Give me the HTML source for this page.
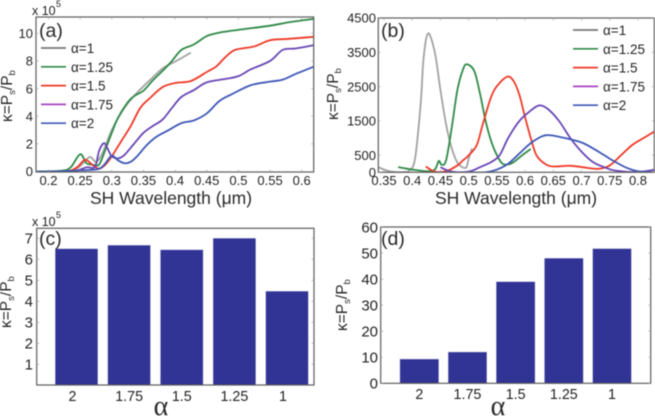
<!DOCTYPE html>
<html>
<head>
<meta charset="utf-8">
<style>
html,body{margin:0;padding:0;background:#fff;width:655px;height:416px;overflow:hidden}
svg{display:block;filter:blur(0.5px)}
text{font-family:"Liberation Sans",sans-serif;fill:#222}
.axt{font-size:17.5px;fill:#2a2a2a}
.yl{font-size:15.5px;fill:#2a2a2a}
.sub{font-size:9.5px}
.pl{font-size:19.5px;fill:#2a2a2a}
.alpha{font-family:"Liberation Serif",serif;font-size:28px;fill:#2a2a2a}
</style>
</head>
<body>
<svg id="fig" xmlns="http://www.w3.org/2000/svg" width="655" height="416" viewBox="0 0 655 416">
  <g id="layer-marks"></g>
  <g>
    <text class="pl" x="39" y="37">(a)</text>
    <text x="32" y="15" font-size="12.5">x 10</text>
    <text x="56" y="7" font-size="9">5</text>
    <text class="axt" x="171" y="204" text-anchor="middle">SH Wavelength (μm)</text>
    <text class="yl" transform="translate(12,122) rotate(-90)">κ=P<tspan class="sub" dy="3">s</tspan><tspan dy="-3">/P</tspan><tspan class="sub" dy="3">b</tspan></text>
  </g>
  <g>
    <text class="pl" x="381" y="37">(b)</text>
    <text class="axt" x="516" y="204" text-anchor="middle">SH Wavelength (μm)</text>
    <text class="yl" transform="translate(338,120) rotate(-90)">κ=P<tspan class="sub" dy="3">s</tspan><tspan dy="-3">/P</tspan><tspan class="sub" dy="3">b</tspan></text>
  </g>
  <g>
    <text class="pl" x="39" y="245">(c)</text>
    <text x="32" y="226" font-size="12.5">x 10</text>
    <text x="56" y="218" font-size="9">5</text>
    <text class="alpha" x="161" y="415" text-anchor="middle">α</text>
    <text class="yl" transform="translate(11,328) rotate(-90)">κ=P<tspan class="sub" dy="3">s</tspan><tspan dy="-3">/P</tspan><tspan class="sub" dy="3">b</tspan></text>
  </g>
  <g>
    <text class="pl" x="381" y="245">(d)</text>
    <text class="alpha" x="498" y="415" text-anchor="middle">α</text>
    <text class="yl" transform="translate(347,331) rotate(-90)">κ=P<tspan class="sub" dy="3">s</tspan><tspan dy="-3">/P</tspan><tspan class="sub" dy="3">b</tspan></text>
  </g>
</svg>
<script>
// Shared series names and colours
const seriesNames = ['α=1', 'α=1.25', 'α=1.5', 'α=1.75', 'α=2'];
const seriesColors = ['#a2a2a2', '#2f8a48', '#ee3a28', '#6a46b6', '#3f57b8'];
const legendColors = ['#777777', '#2f8a48', '#ee3a28', '#a844c4', '#3f57b8'];

// Panel (a) values: wavelength (um) and kappa (x 10^5)
const aAlpha1X = [0.2,0.235,0.25,0.265,0.275,0.285,0.3,0.32,0.34,0.36,0.38,0.4,0.425];
const aAlpha1Y = [0,0.05,0.4,1.05,0.7,1.3,3.0,4.6,5.7,6.6,7.45,7.95,8.6];
const aAlpha125X = [0.18,0.22,0.235,0.25,0.26,0.27,0.28,0.29,0.3,0.31,0.325,0.335,0.35,0.365,0.385,0.395,0.41,0.43,0.45,0.47,0.5,0.55,0.58,0.62];
const aAlpha125Y = [0,0.05,0.3,1.25,0.6,0.5,0.5,1.6,2.8,3.9,5.0,5.45,5.85,6.6,7.5,8.0,8.8,9.2,9.8,10.05,10.25,10.55,10.8,11.05];
const aAlpha15X = [0.2,0.23,0.245,0.258,0.27,0.28,0.29,0.3,0.315,0.33,0.345,0.36,0.38,0.4,0.425,0.45,0.465,0.48,0.495,0.525,0.55,0.58,0.62];
const aAlpha15Y = [0,0.02,0.3,0.85,0.45,0.2,0.5,1.1,2.2,3.3,4.6,5.3,6.1,6.4,6.55,7.2,7.6,8.3,8.8,9.05,9.5,9.6,9.75];
const aAlpha175X = [0.2,0.24,0.26,0.27,0.275,0.28,0.288,0.295,0.3,0.31,0.32,0.335,0.35,0.365,0.38,0.395,0.41,0.43,0.45,0.48,0.5,0.52,0.55,0.57,0.59,0.62];
const aAlpha175Y = [0,0.02,0.3,0.25,0.5,1.5,2.05,1.5,1.1,0.95,1.2,2,2.8,3.3,3.75,4.6,5.4,5.9,6.45,6.7,6.9,7.4,8.0,8.8,8.9,9.15];
const aAlpha2X = [0.18,0.2,0.26,0.28,0.29,0.3,0.31,0.32,0.33,0.34,0.355,0.37,0.39,0.41,0.43,0.45,0.47,0.49,0.52,0.55,0.57,0.59,0.62];
const aAlpha2Y = [0,0,0.1,0.2,0.6,1.15,0.8,0.6,0.7,1.1,1.9,2.5,3,3.5,3.7,4.2,5.1,5.6,6.25,6.5,6.65,7.05,7.6];
const aXTicks = ['0.2','0.25','0.3','0.35','0.4','0.45','0.5','0.55','0.6'];
const aYTicks = ['0','2','4','6','8','10'];

// Panel (b) values: wavelength (um) and kappa
const bAlpha1X = [0.34,0.355,0.37,0.385,0.395,0.405,0.415,0.42,0.428,0.44,0.45,0.46,0.47,0.481,0.495,0.5,0.506];
const bAlpha1Y = [150,50,10,10,50,400,2000,3300,4050,3500,2400,1400,700,260,130,400,700];
const bAlpha125X = [0.375,0.4,0.425,0.44,0.447,0.452,0.46,0.47,0.48,0.49,0.497,0.51,0.52,0.53,0.54,0.55,0.56,0.57,0.58,0.595,0.61];
const bAlpha125Y = [150,80,30,80,330,220,350,1300,2400,3000,3150,2950,2300,1500,900,500,250,230,300,500,680];
const bAlpha15X = [0.424,0.44,0.46,0.48,0.49,0.499,0.514,0.5255,0.54,0.552,0.569,0.58,0.59,0.6,0.61,0.62,0.635,0.65,0.68,0.71,0.73,0.75,0.77,0.79,0.81,0.83];
const bAlpha15Y = [170,20,30,200,350,480,780,1430,2210,2550,2790,2650,2250,1600,1000,500,250,170,190,130,100,200,500,800,1000,1200];
const bAlpha175X = [0.45,0.47,0.5,0.52,0.54,0.555,0.57,0.59,0.61,0.625,0.64,0.66,0.68,0.7,0.72,0.74,0.76,0.8,0.83];
const bAlpha175Y = [150,20,20,150,300,500,1000,1500,1800,1950,1850,1500,1000,600,300,150,50,10,80];
const bAlpha2X = [0.5,0.53,0.55,0.57,0.59,0.61,0.63,0.645,0.67,0.7,0.72,0.74,0.76,0.78,0.8,0.83];
const bAlpha2Y = [0,0,80,250,550,850,1050,1080,1000,870,700,500,300,130,30,0];
const bXTicks = ['0.35','0.4','0.45','0.5','0.55','0.6','0.65','0.7','0.75','0.8'];
const bYTicks = ['0','500','1500','2500','3500','4500'];

// Panel (c) and (d) bar values
const barCategories = ['2', '1.75', '1.5', '1.25', '1'];
const cValues = [6.5, 6.67, 6.45, 7.0, 4.48];
const dValues = [9.3, 12, 39, 48, 51.7];
const cYTicks = ['1','2','3','4','5','6','7'];
const dYTicks = ['0','10','20','30','40','50','60'];

const NS = 'http://www.w3.org/2000/svg';
const layer = document.getElementById('layer-marks');

function make(tag, attrs, text) {
  const el = document.createElementNS(NS, tag);
  for (const k in attrs) el.setAttribute(k, attrs[k]);
  if (text !== undefined) el.textContent = text;
  layer.appendChild(el);
  return el;
}
function linear(d0, d1, r0, r1) {
  return v => r0 + (v - d0) * (r1 - r0) / (d1 - d0);
}
function smoothPath(xs, ys, sx, sy) {
  const p = xs.map((x, i) => [sx(x), sy(ys[i])]);
  let d = 'M' + p[0][0].toFixed(2) + ' ' + p[0][1].toFixed(2);
  for (let i = 0; i < p.length - 1; i++) {
    const a = p[Math.max(i - 1, 0)], b = p[i], c = p[i + 1], e = p[Math.min(i + 2, p.length - 1)];
    const c1x = b[0] + (c[0] - a[0]) / 6, c1y = b[1] + (c[1] - a[1]) / 6;
    const c2x = c[0] - (e[0] - b[0]) / 6, c2y = c[1] - (e[1] - b[1]) / 6;
    d += 'C' + c1x.toFixed(2) + ' ' + c1y.toFixed(2) + ' ' + c2x.toFixed(2) + ' ' + c2y.toFixed(2) + ' ' + c[0].toFixed(2) + ' ' + c[1].toFixed(2);
  }
  return d;
}
function drawFrame(panel, box) {
  const r = make('rect', {x: box.l, y: box.t, width: box.r - box.l, height: box.b - box.t, fill: 'none', stroke: '#5c5c5c', 'stroke-width': 1.2});
  
  
}
function drawXTicks(panel, labels, sx, box, y, size) {
  labels.forEach(t => {
    const x = sx(parseFloat(t));
    const tick = make('path', {d: 'M' + x + ' ' + box.b + 'V' + (box.b - 2.5) + 'M' + x + ' ' + box.t + 'V' + (box.t + 2.5), stroke: '#999', 'stroke-width': 0.6, fill: 'none'});
    
    
    const lab = make('text', {x: x, y: y, 'text-anchor': 'middle', 'font-size': size}, t);
    
    
  });
}
function drawYTicks(panel, labels, sy, box, x, size) {
  labels.forEach(t => {
    const y = sy(parseFloat(t));
    const tick = make('path', {d: 'M' + box.l + ' ' + y + 'H' + (box.l + 2.5) + 'M' + box.r + ' ' + y + 'H' + (box.r - 2.5), stroke: '#999', 'stroke-width': 0.6, fill: 'none'});
    
    
    const lab = make('text', {x: x, y: y + size * 0.36, 'text-anchor': 'end', 'font-size': size}, t);
    
    
  });
}
function drawLegend(panel, lx, ys, tx) {
  seriesNames.forEach((name, i) => {
    const ln = make('line', {x1: lx, x2: lx + 25, y1: ys(i), y2: ys(i), stroke: legendColors[i], 'stroke-width': 1.7});
    
    
    const tt = make('text', {x: tx, y: ys(i) + 5, 'font-size': 13.5}, name);
    
    
  });
}
function drawLines(panel, series, sx, sy, box, clipId) {
  const defs = make('clipPath', {id: clipId});
  const cr = document.createElementNS(NS, 'rect');
  cr.setAttribute('x', box.l); cr.setAttribute('y', box.t);
  cr.setAttribute('width', box.r - box.l); cr.setAttribute('height', box.b - box.t);
  defs.appendChild(cr);
  series.forEach((s, i) => {
    const p = make('path', {d: smoothPath(s[0], s[1], sx, sy), fill: 'none', stroke: seriesColors[i], 'stroke-width': 1.8, 'clip-path': 'url(#' + clipId + ')', 'stroke-linejoin': 'round'});
    
    
  });
}
function drawBars(panel, values, sx, sy, width) {
  values.forEach((v, i) => {
    const x = sx(i) - width / 2;
    const r = make('rect', {x: x, y: sy(v), width: width, height: sy(0) - sy(v), fill: '#313395', stroke: '#b9bbd8', 'stroke-width': 0.4});
    
    
  });
}

// Panel (a)
const boxA = {l: 36, r: 313.7, t: 17, b: 172};
const sxA = linear(0.2, 0.6, 48.5, 301.7);
const syA = linear(0, 10, 171.5, 33.3);
drawLines('panel-a', [[aAlpha1X, aAlpha1Y], [aAlpha125X, aAlpha125Y], [aAlpha15X, aAlpha15Y], [aAlpha175X, aAlpha175Y], [aAlpha2X, aAlpha2Y]], sxA, syA, boxA, 'clip-a');
drawFrame('panel-a', boxA);
drawXTicks('panel-a', aXTicks, sxA, boxA, 185, 13);
drawYTicks('panel-a', aYTicks, syA, boxA, 33, 13);
drawLegend('panel-a', 41, i => 48 + i * 18.8, 71);

// Panel (b)
const boxB = {l: 378.3, r: 654.3, t: 18, b: 172.3};
const sxB = linear(0.35, 0.8, 384, 638);
const syB = linear(0, 4500, 172.3, 18);
drawLines('panel-b', [[bAlpha1X, bAlpha1Y], [bAlpha125X, bAlpha125Y], [bAlpha15X, bAlpha15Y], [bAlpha175X, bAlpha175Y], [bAlpha2X, bAlpha2Y]], sxB, syB, boxB, 'clip-b');
drawFrame('panel-b', boxB);
drawXTicks('panel-b', bXTicks, sxB, boxB, 185, 13);
drawYTicks('panel-b', bYTicks, syB, boxB, 376, 13);
drawLegend('panel-b', 573, i => 30 + i * 18.8, 603);

// Panel (c)
const boxC = {l: 36.7, r: 314, t: 228.3, b: 385};
const sxC = linear(0, 4, 76.5, 287);
const syC = linear(0, 7, 385.3, 238.3);
drawBars('panel-c', cValues, sxC, syC, 42.6);
drawFrame('panel-c', boxC);
barCategories.forEach((c, i) => {
  const nudge = c.length === 1 ? -4 : 0;
  const lab = make('text', {x: sxC(i) + nudge, y: 401, 'text-anchor': 'middle', 'font-size': 14.3}, c);
  
  
});
drawYTicks('panel-c', cYTicks, syC, boxC, 33, 15);

// Panel (d)
const boxD = {l: 380.7, r: 650.7, t: 227, b: 383.3};
const sxD = linear(0, 4, 419.3, 612);
const syD = linear(0, 60, 383.3, 227);
drawBars('panel-d', dValues, sxD, syD, 38.7);
drawFrame('panel-d', boxD);
barCategories.forEach((c, i) => {
  const lab = make('text', {x: sxD(i), y: 399, 'text-anchor': 'middle', 'font-size': 14.3}, c);
  
  
});
drawYTicks('panel-d', dYTicks, syD, boxD, 378, 15);
</script>
</body>
</html>
